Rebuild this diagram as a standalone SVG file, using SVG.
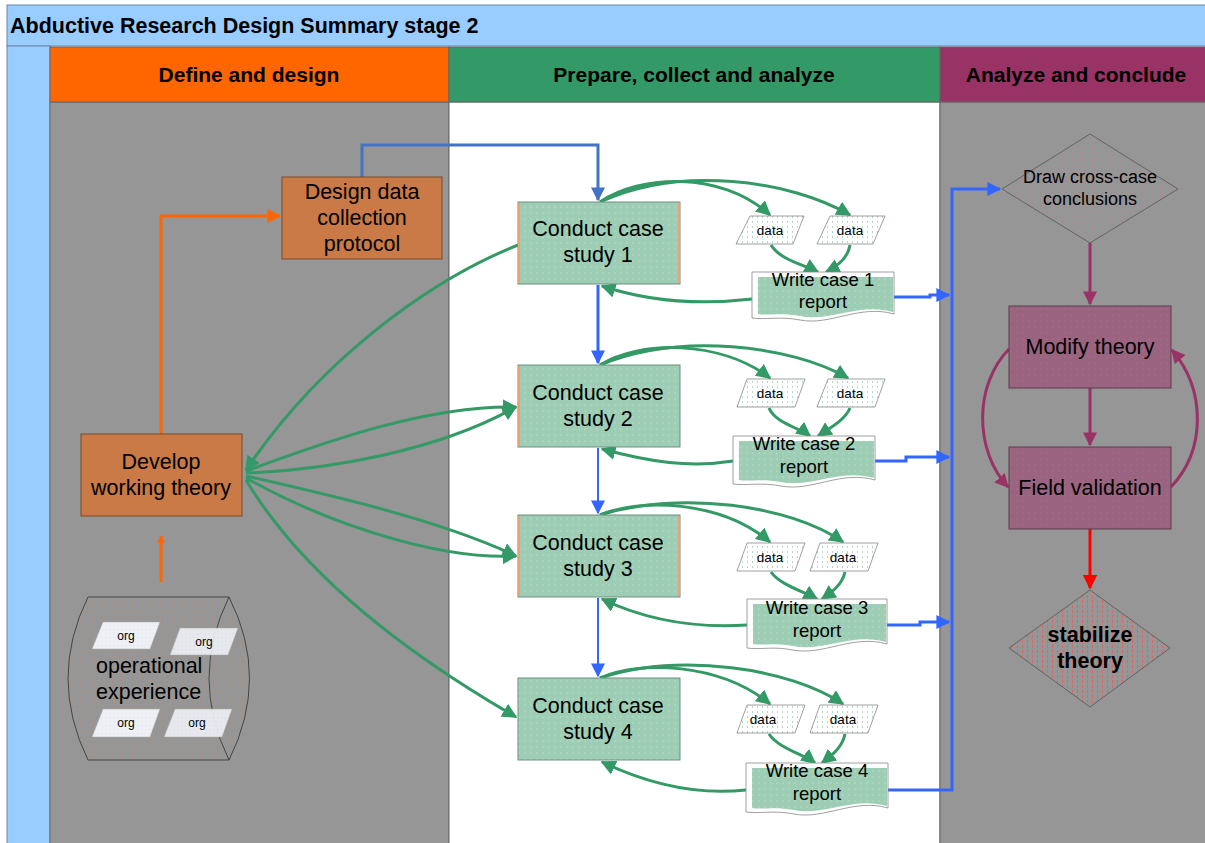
<svg xmlns="http://www.w3.org/2000/svg" width="1205" height="843" viewBox="0 0 1205 843">
  <style>
    .t { font-family: "Liberation Sans", Arial, sans-serif; fill: #000; }
    .hdr { font-size: 21px; font-weight: bold; text-anchor: middle; }
    .lbl { font-size: 21.5px; text-anchor: middle; }
    .rep { font-size: 18.5px; text-anchor: middle; }
    .sm { font-size: 13.5px; text-anchor: middle; }
    .org { font-size: 12px; text-anchor: middle; }
    .orange { fill: #c97a47; stroke: #7a4a2a; stroke-width: 1; }
    .case { fill: url(#dotGreen); stroke: #6f8f80; stroke-width: 1; }
    .data { fill: url(#dataFill); stroke: #888; stroke-width: 0.8; }
    .plum { fill: url(#dotPlum); stroke: #5a3a4a; stroke-width: 1; }
    .g { fill: none; stroke: #339966; stroke-width: 3; marker-end: url(#ag); }
    .ba { fill: none; stroke: #3366ff; stroke-width: 3; marker-end: url(#ab); }
    .bt { fill: none; stroke: #3366ff; stroke-width: 2; marker-end: url(#ab); }
    .m { fill: none; stroke: #993366; stroke-width: 3; marker-end: url(#am); }
  </style>
  <defs>
    <pattern id="dotGreen" width="6" height="6" patternUnits="userSpaceOnUse">
      <rect width="6" height="6" fill="#9dcdb4"/>
      <circle cx="3" cy="3" r="0.6" fill="#d8eee2"/>
    </pattern>
    <pattern id="dotPlum" width="6" height="6" patternUnits="userSpaceOnUse">
      <rect width="6" height="6" fill="#9a6480"/>
      <circle cx="3" cy="3" r="0.6" fill="#b07a94"/>
    </pattern>
    <pattern id="dataFill" width="5" height="5" patternUnits="userSpaceOnUse">
      <rect width="5" height="5" fill="#ffffff"/>
      <rect x="2" y="1" width="1" height="2" fill="#b4d8c4"/>
    </pattern>
    <pattern id="pinkDot" width="5" height="5" patternUnits="userSpaceOnUse">
      <rect width="5" height="5" fill="#969696"/>
      <rect x="2" y="1" width="1" height="2" fill="#a88c92"/>
    </pattern>
    <pattern id="redHatch" width="5" height="5" patternUnits="userSpaceOnUse">
      <rect width="5" height="5" fill="#969696"/>
      <rect x="2" y="0" width="1" height="3" fill="#e06464"/>
    </pattern>
    <pattern id="drumFill" width="5" height="5" patternUnits="userSpaceOnUse">
      <rect width="5" height="5" fill="#969696"/>
      <rect x="2" y="1" width="1" height="2" fill="#a48e80"/>
    </pattern>
    <pattern id="orgFill" width="4" height="4" patternUnits="userSpaceOnUse">
      <rect width="4" height="4" fill="#eef0f6"/>
      <rect x="1" y="1" width="1" height="1" fill="#dfe2ea"/>
    </pattern>
    <marker id="ag" viewBox="0 0 10 10" refX="9" refY="5" markerWidth="15" markerHeight="15" markerUnits="userSpaceOnUse" orient="auto">
      <path d="M0,0 L10,5 L0,10 z" fill="#339966"/>
    </marker>
    <marker id="ab" viewBox="0 0 10 10" refX="9" refY="5" markerWidth="14" markerHeight="14" markerUnits="userSpaceOnUse" orient="auto">
      <path d="M0,0 L10,5 L0,10 z" fill="#3366ff"/>
    </marker>
    <marker id="abm" viewBox="0 0 10 10" refX="9" refY="5" markerWidth="14" markerHeight="14" markerUnits="userSpaceOnUse" orient="auto">
      <path d="M0,0 L10,5 L0,10 z" fill="#4472c4"/>
    </marker>
    <marker id="ao" viewBox="0 0 10 10" refX="9" refY="5" markerWidth="14" markerHeight="14" markerUnits="userSpaceOnUse" orient="auto">
      <path d="M0,0 L10,5 L0,10 z" fill="#ff6600"/>
    </marker>
    <marker id="aos" viewBox="0 0 10 10" refX="9" refY="5" markerWidth="8" markerHeight="8" markerUnits="userSpaceOnUse" orient="auto">
      <path d="M0,0 L10,5 L0,10 z" fill="#ff6600"/>
    </marker>
    <marker id="am" viewBox="0 0 10 10" refX="9" refY="5" markerWidth="14" markerHeight="14" markerUnits="userSpaceOnUse" orient="auto">
      <path d="M0,0 L10,5 L0,10 z" fill="#993366"/>
    </marker>
    <marker id="ar" viewBox="0 0 10 10" refX="9" refY="5" markerWidth="15" markerHeight="15" markerUnits="userSpaceOnUse" orient="auto">
      <path d="M0,0 L10,5 L0,10 z" fill="#ff0000"/>
    </marker>
  </defs>

  <!-- page background -->
  <rect width="1205" height="843" fill="#ffffff"/>

  <!-- pool title bar and left strip -->
  <g id="pool">
    <rect x="7" y="5" width="1205" height="41" fill="#99ccff" stroke="#6a88a8" stroke-width="1"/>
    <text class="t" x="10" y="33" font-size="21.5" font-weight="bold">Abductive Research Design Summary stage 2</text>
    <rect x="7" y="46" width="43" height="800" fill="#99ccff" stroke="#6a88a8" stroke-width="1"/>
  </g>

  <!-- swim lanes -->
  <g id="lane-define">
    <rect x="50" y="102" width="399" height="745" fill="#969696" stroke="#666" stroke-width="1"/>
    <rect x="50" y="47" width="399" height="55" fill="#ff6600" stroke="#666" stroke-width="1"/>
    <text class="t hdr" x="249" y="82">Define and design</text>
  </g>
  <g id="lane-prepare">
    <rect x="449" y="102" width="491" height="745" fill="#ffffff" stroke="#666" stroke-width="1"/>
    <rect x="449" y="47" width="491" height="55" fill="#339966" stroke="#666" stroke-width="1"/>
    <text class="t hdr" x="694" y="82">Prepare, collect and analyze</text>
  </g>
  <g id="lane-conclude">
    <rect x="940" y="102" width="270" height="745" fill="#969696" stroke="#666" stroke-width="1"/>
    <rect x="940" y="47" width="270" height="55" fill="#993366" stroke="#666" stroke-width="1"/>
    <text class="t hdr" x="1076" y="82">Analyze and conclude</text>
  </g>

  <!-- connectors -->
  <g id="connectors">
    <!-- orange flow in the define lane -->
    <path d="M161,434 V216 H280" fill="none" stroke="#ff6600" stroke-width="3" marker-end="url(#ao)"/>
    <path d="M161,582 V536" fill="none" stroke="#ff6600" stroke-width="3" marker-end="url(#aos)"/>
    <!-- protocol to case study 1 -->
    <path d="M362,177 V145 H598 V200" fill="none" stroke="#4472c4" stroke-width="3" marker-end="url(#abm)"/>

    <!-- theory loop between develop node and case studies -->
    <path class="g" d="M518,245 C430,280 320,360 246,470"/>
    <path class="g" d="M246,471 C330,440 430,405 516,407"/>
    <path class="g" d="M246,473 C330,470 440,450 516,407"/>
    <path class="g" d="M246,476 C330,495 440,520 516,556"/>
    <path class="g" d="M246,478 C330,525 440,560 516,556"/>
    <path class="g" d="M246,480 C300,570 400,650 516,717"/>

    <!-- case sequence -->
    <path class="ba" d="M598,285 V363"/>
    <path class="bt" d="M598,448 V513"/>
    <path class="bt" d="M598,598 V676"/>

    <!-- case 1 internal flow -->
    <path class="g" d="M600,202 C640,175 720,170 770,215"/>
    <path class="g" d="M600,202 C680,165 790,180 850,215"/>
    <path class="g" d="M771,245 C780,260 805,265 818,272"/>
    <path class="g" d="M850,245 C848,258 838,266 826,272"/>
    <path class="g" d="M752,299 C700,305 650,302 602,286"/>

    <!-- case 2 internal flow -->
    <path class="g" d="M600,365 C640,340 720,340 770,378"/>
    <path class="g" d="M600,365 C680,332 790,345 848,378"/>
    <path class="g" d="M769,408 C775,423 800,428 810,436"/>
    <path class="g" d="M850,408 C845,420 830,428 818,436"/>
    <path class="g" d="M733,461 C690,468 650,462 602,449"/>

    <!-- case 3 internal flow -->
    <path class="g" d="M600,515 C640,498 720,500 770,542"/>
    <path class="g" d="M600,515 C680,490 790,505 843,542"/>
    <path class="g" d="M771,572 C780,585 805,592 817,599"/>
    <path class="g" d="M845,572 C842,585 832,592 822,599"/>
    <path class="g" d="M747,625 C700,628 650,622 602,599"/>

    <!-- case 4 internal flow -->
    <path class="g" d="M600,678 C640,660 720,663 770,704"/>
    <path class="g" d="M600,678 C680,652 790,668 843,704"/>
    <path class="g" d="M769,734 C778,748 805,755 815,763"/>
    <path class="g" d="M845,734 C842,748 832,755 822,763"/>
    <path class="g" d="M746,790 C700,795 650,785 602,762"/>

    <!-- reports feeding the cross-case step -->
    <path class="ba" d="M894,297 H930 V295 H949"/>
    <path class="ba" d="M875,461 H906 V457 H949"/>
    <path class="ba" d="M887,625 H920 V622 H949"/>
    <path class="ba" d="M888,790 H952 V189 H1000"/>

    <!-- conclusion lane -->
    <path class="m" d="M1090,243 V304"/>
    <path class="m" d="M1090,388 V445"/>
    <path class="m" d="M1009,349 C974,385 974,450 1008,487"/>
    <path class="m" d="M1171,487 C1206,450 1206,390 1172,350"/>
    <path d="M1090,529 V588" fill="none" stroke="#ff0000" stroke-width="3" marker-end="url(#ar)"/>
  </g>

  <!-- define lane nodes -->
  <g id="node-protocol">
    <rect class="orange" x="282" y="177" width="160" height="82"/>
    <text class="t lbl" x="362" y="199">Design data</text>
    <text class="t lbl" x="362" y="225">collection</text>
    <text class="t lbl" x="362" y="251">protocol</text>
  </g>
  <g id="node-develop">
    <rect class="orange" x="81" y="434" width="161" height="82"/>
    <text class="t lbl" x="161" y="469">Develop</text>
    <text class="t lbl" x="161" y="495">working theory</text>
  </g>
  <g id="node-experience">
    <path d="M88,597 L229,597 Q270,678 229,760 L88,760 Q48,678 88,597 Z" fill="url(#drumFill)" stroke="none"/>
    <path d="M88,597 L229,597 M88,760 L229,760 M88,597 Q48,678 88,760 M229,597 Q270,678 229,760 M229,597 Q189,678 229,760" fill="none" stroke="#444" stroke-width="1"/>
    <polygon points="103,622 160,622 150,649 92,649" fill="url(#orgFill)" stroke="#aaa" stroke-width="0.5"/>
    <text class="t org" x="126" y="640">org</text>
    <polygon points="180,628 238,628 228,655 170,655" fill="url(#orgFill)" stroke="#aaa" stroke-width="0.5" opacity="0.92"/>
    <text class="t org" x="204" y="646">org</text>
    <polygon points="103,709 160,709 150,737 92,737" fill="url(#orgFill)" stroke="#aaa" stroke-width="0.5"/>
    <text class="t org" x="126" y="727">org</text>
    <polygon points="175,709 232,709 222,737 164,737" fill="url(#orgFill)" stroke="#aaa" stroke-width="0.5" opacity="0.92"/>
    <text class="t org" x="197" y="727">org</text>
    <text class="t" x="96" y="673" font-size="21.5">operational</text>
    <text class="t" x="96" y="699" font-size="21.5">experience</text>
  </g>

  <!-- case study nodes -->
  <g id="node-case1">
    <rect class="case" x="518" y="202" width="162" height="82"/>
    <rect x="518" y="203" width="2" height="80" fill="#f0a070"/>
    <rect x="678" y="203" width="2" height="80" fill="#f0a070"/>
    <text class="t lbl" x="598" y="236">Conduct case</text>
    <text class="t lbl" x="598" y="262">study 1</text>
  </g>
  <g id="node-case2">
    <rect class="case" x="518" y="365" width="162" height="82"/>
    <rect x="518" y="366" width="2" height="80" fill="#f0a070"/>
    <text class="t lbl" x="598" y="400">Conduct case</text>
    <text class="t lbl" x="598" y="426">study 2</text>
  </g>
  <g id="node-case3">
    <rect class="case" x="518" y="515" width="162" height="82"/>
    <rect x="518" y="516" width="2" height="80" fill="#f0a070"/>
    <rect x="678" y="516" width="2" height="80" fill="#f0a070"/>
    <text class="t lbl" x="598" y="550">Conduct case</text>
    <text class="t lbl" x="598" y="576">study 3</text>
  </g>
  <g id="node-case4">
    <rect class="case" x="518" y="678" width="162" height="82"/>
    <text class="t lbl" x="598" y="713">Conduct case</text>
    <text class="t lbl" x="598" y="739">study 4</text>
  </g>

  <!-- data items -->
  <g id="node-data1a"><polygon class="data" points="750,216 804,216 793,244 736,244"/><text class="t sm" x="770" y="235">data</text></g>
  <g id="node-data1b"><polygon class="data" points="830,216 885,216 873,244 817,244"/><text class="t sm" x="850" y="235">data</text></g>
  <g id="node-data2a"><polygon class="data" points="747,379 805,379 795,407 737,407"/><text class="t sm" x="770" y="398">data</text></g>
  <g id="node-data2b"><polygon class="data" points="828,379 885,379 875,407 817,407"/><text class="t sm" x="850" y="398">data</text></g>
  <g id="node-data3a"><polygon class="data" points="747,543 805,543 795,571 737,571"/><text class="t sm" x="770" y="562">data</text></g>
  <g id="node-data3b"><polygon class="data" points="820,543 878,543 868,571 810,571"/><text class="t sm" x="843" y="562">data</text></g>
  <g id="node-data4a"><polygon class="data" points="747,705 805,705 795,733 737,733"/><text class="t sm" x="763" y="724">data</text></g>
  <g id="node-data4b"><polygon class="data" points="820,705 878,705 868,733 810,733"/><text class="t sm" x="843" y="724">data</text></g>

  <!-- case reports (document shapes) -->
  <g id="node-report1">
    <path d="M752,272 H894 V314 C860,304 830,326 800,320 C780,316 765,320 752,318 Z" fill="#ffffff" stroke="#888" stroke-width="0.8"/>
    <path d="M758,277 H893 V312 C860,302 830,322 800,316 C780,312 768,316 758,314 Z" fill="url(#dotGreen)"/>
    <text class="t rep" x="823" y="286">Write case 1</text>
    <text class="t rep" x="823" y="308">report</text>
  </g>
  <g id="node-report2">
    <path d="M733,436 H875 V480 C841,470 811,492 781,486 C761,482 746,486 733,484 Z" fill="#ffffff" stroke="#888" stroke-width="0.8"/>
    <path d="M739,441 H874 V478 C841,468 811,488 781,482 C761,478 749,482 739,480 Z" fill="url(#dotGreen)"/>
    <text class="t rep" x="804" y="450">Write case 2</text>
    <text class="t rep" x="804" y="473">report</text>
  </g>
  <g id="node-report3">
    <path d="M747,599 H887 V644 C853,634 823,656 793,650 C773,646 760,650 747,648 Z" fill="#ffffff" stroke="#888" stroke-width="0.8"/>
    <path d="M753,604 H886 V642 C853,632 823,652 793,646 C773,642 763,646 753,644 Z" fill="url(#dotGreen)"/>
    <text class="t rep" x="817" y="614">Write case 3</text>
    <text class="t rep" x="817" y="637">report</text>
  </g>
  <g id="node-report4">
    <path d="M746,763 H888 V808 C854,798 824,820 794,814 C774,810 759,814 746,812 Z" fill="#ffffff" stroke="#888" stroke-width="0.8"/>
    <path d="M752,768 H887 V806 C854,796 824,816 794,810 C774,806 762,810 752,808 Z" fill="url(#dotGreen)"/>
    <text class="t rep" x="817" y="777">Write case 4</text>
    <text class="t rep" x="817" y="800">report</text>
  </g>

  <!-- conclusion lane nodes -->
  <g id="node-crosscase">
    <polygon points="1090,134 1178,189 1090,243 1002,189" fill="url(#pinkDot)" stroke="#555" stroke-width="0.8"/>
    <text class="t" x="1090" y="183" font-size="18" text-anchor="middle">Draw cross-case</text>
    <text class="t" x="1090" y="205" font-size="18" text-anchor="middle">conclusions</text>
  </g>
  <g id="node-modify">
    <rect class="plum" x="1009" y="306" width="162" height="82"/>
    <text class="t lbl" x="1090" y="354">Modify theory</text>
  </g>
  <g id="node-field">
    <rect class="plum" x="1009" y="447" width="162" height="82"/>
    <text class="t lbl" x="1090" y="495">Field validation</text>
  </g>
  <g id="node-stabilize">
    <polygon points="1090,590 1170,648 1090,707 1009,648" fill="url(#redHatch)" stroke="#555" stroke-width="0.8"/>
    <text class="t lbl" x="1090" y="642" font-weight="bold">stabilize</text>
    <text class="t lbl" x="1090" y="668" font-weight="bold">theory</text>
  </g>
</svg>
